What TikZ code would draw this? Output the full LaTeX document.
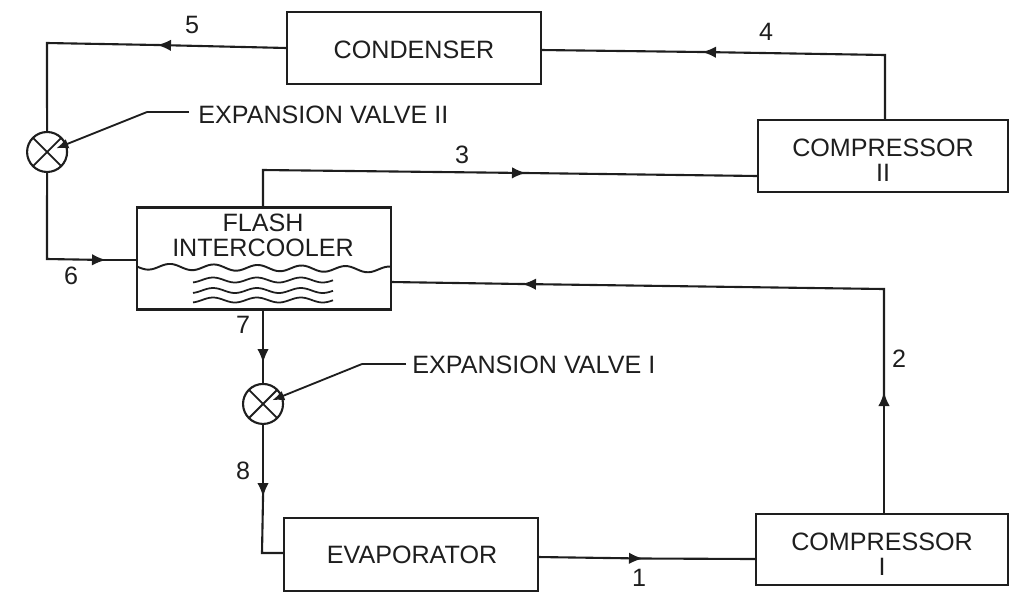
\documentclass[tikz,border=0pt]{standalone}
\usepackage{fontspec}
\setmainfont{Liberation Sans}
\usepackage{xcolor}
\usetikzlibrary{arrows.meta,positioning}
\definecolor{hsedge}{RGB}{30,30,30}
\tikzset{
  unit/.style={
    draw=hsedge, line width=1.2pt, inner sep=0pt, outer sep=0pt
  },
  valve/.style={
    draw=hsedge, line width=1.2pt, circle, inner sep=0pt, outer sep=0pt, minimum size=0.8cm
  },
  pipe/.style={draw=hsedge, line width=1.2pt},
  pipeon/.style={pipe, shorten <=-2.5mm},
  arr/.style={pipe, -{Latex[length=2.8mm,width=2.3mm]}},
  lead/.style={draw=hsedge, line width=1.05pt},
  leadarr/.style={lead, -{Latex[length=2.4mm,width=2mm]}, shorten >=0.2cm},
  wave/.style={draw=hsedge, line width=1pt},
  txt/.style={
    inner sep=0pt, align=center, text=hsedge,
    font=\fontsize{14.3}{14.2}\selectfont
  }
}

\begin{document}
\begin{tikzpicture}[x=0.02cm, y=-0.02cm]
  \useasboundingbox (0,0) rectangle (1010,593);
  \node[unit, minimum width=5.08cm, minimum height=1.44cm] (cond) at (414,48) {};
  \node[unit, minimum width=5cm, minimum height=1.44cm, below right=0.72cm and 4.34cm of cond] (compII) {};
  \node[unit, minimum width=5.08cm, minimum height=2.04cm, below=2.47cm of cond, xshift=-3cm] (flash) {};
  \node[unit, minimum width=5.04cm, minimum height=1.42cm, below=6.44cm of compII, xshift=-0.02cm] (compI) {};
  \node[unit, minimum width=5.08cm, minimum height=1.46cm, left=4.36cm of compI, yshift=-0.1cm] (evap) {};
  \node[valve, below=1.49cm of flash, xshift=-0.02cm] (vI) {};
  \node[valve, left=1.4cm of flash, yshift=2.13cm] (vII) {};
  \foreach \v in {vI,vII} {
    \draw[lead] (\v.45) -- (\v.225);
    \draw[lead] (\v.135) -- (\v.315);
  }

  % labels
  \node[txt] (tcond) at (414,50) {CONDENSER};
  \node[txt] (tcompII) at (883,160.5) {COMPRESSOR\\II};
  \node[txt] (tflash) at (263,235) {FLASH\\INTERCOOLER};
  \node[txt] (tcompI) at (882,554.5) {COMPRESSOR\\I};
  \node[txt] (tevap) at (412,555) {EVAPORATOR};
  \node[txt, anchor=west] (lvII) at (198,115) {EXPANSION VALVE II};
  \node[txt, anchor=west] (lvI) at (412,365) {EXPANSION VALVE I};
  \node[txt] (n1) at (639,578) {1};
  \node[txt] (n2) at (899,359) {2};
  \node[txt] (n3) at (462,155) {3};
  \node[txt] (n4) at (766,32) {4};
  \node[txt] (n5) at (192,25) {5};
  \node[txt] (n6) at (71,276) {6};
  \node[txt] (n7) at (243,325) {7};
  \node[txt] (n8) at (243,471) {8};

  % cycle
  \coordinate (a5) at (157,45);
  \coordinate (c5) at (47,43);
  \draw[arr] (cond.west) -- (a5);
  \draw[pipeon] (a5) -- (c5) -- (vII.north);
  \coordinate (c6) at (47,259);
  \coordinate (a6) at (106,260);
  \draw[arr] (vII.south) -- (c6) -- (a6);
  \draw[pipeon] (a6) -- (a6 -| flash.west);
  \coordinate (c3) at (263,170);
  \coordinate (a3) at (526,173);
  \draw[arr] (flash.north -| c3) -- (c3) -- (a3);
  \draw[pipeon] (a3) -- (compII.west |- 0,176);
  \coordinate (c4) at (885,55);
  \coordinate (a4) at (702,52);
  \draw[arr] (compII.north -| c4) -- (c4) -- (a4);
  \draw[pipeon] (a4) -- (cond.east |- 0,50);
  \coordinate (c2) at (884,289);
  \coordinate (a2) at (884,392);
  \coordinate (b2) at (522,284);
  \draw[arr] (compI.north -| c2) -- (a2);
  \draw[arr, shorten <=-2.5mm] (a2) -- (c2) -- (b2);
  \draw[pipeon] (b2) -- (flash.east |- 0,282);
  \coordinate (a7) at (vI.north |- 0,363);
  \draw[arr] (flash.south -| a7) -- (a7);
  \draw[pipeon] (a7) -- (vI.north);
  \coordinate (a8) at (vI.south |- 0,497);
  \coordinate (c8) at (262,553);
  \draw[arr] (vI.south) -- (a8);
  \draw[pipeon] (a8) -- (c8) -- (evap.west |- c8);
  \coordinate (a1) at (643,558.5);
  \draw[arr] (evap.east |- 0,557) -- (a1);
  \draw[pipeon] (a1) -- (compI.west |- 0,559);

  % leaders
  \coordinate (kII) at (147,112);
  \draw[lead] (189,112) coordinate (sII) -- (kII);
  \draw[leadarr] (kII) -- (vII.center);
  \coordinate (kI) at (362,364);
  \draw[lead] (406,364) coordinate (sI) -- (kI);
  \draw[leadarr] (kI) -- (vI.center);

  % liquid
  \draw[wave, line width=1.1pt] plot[domain=137:391, samples=90, smooth] (\x, {266.5+(\x-137)*0.012-3*cos(8.2*(\x-170))});
  \foreach \yy in {280,290.5,300}
    \draw[wave] plot[domain=193:333, samples=60, smooth] (\x, {\yy-2.5*cos(8.2*(\x-213))});
\end{tikzpicture}
\end{document}
